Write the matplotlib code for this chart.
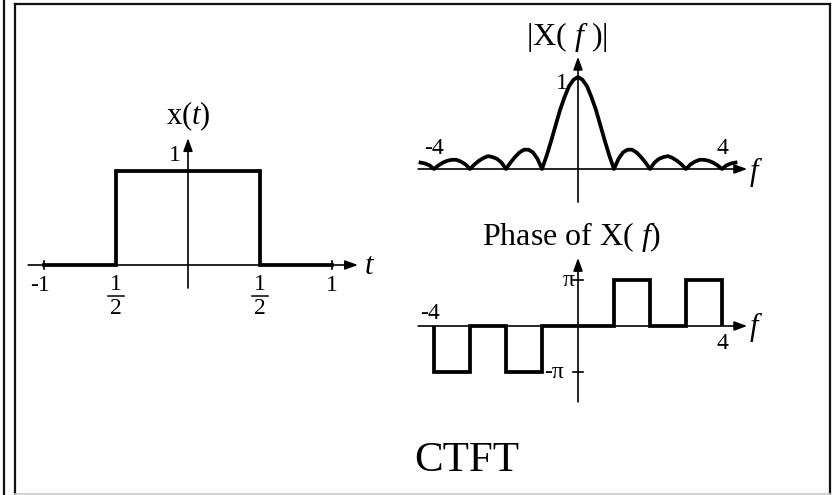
import numpy as np
import matplotlib
matplotlib.use('Agg')
import matplotlib.pyplot as plt
from matplotlib.lines import Line2D

plt.rcParams['font.family'] = ['Liberation Serif', 'DejaVu Serif']
plt.rcParams['mathtext.fontset'] = 'custom'
plt.rcParams['mathtext.rm'] = 'Liberation Serif'
plt.rcParams['mathtext.it'] = 'Liberation Serif:italic'

W, H = 833, 495

# rectangular pulse x(t)
pulse_t = [-1, -0.5, -0.5, 0.5, 0.5, 1]
pulse_x = [0, 0, 1, 1, 0, 0]
whole_ticks = [-1, 1]
whole_labels = ['-1', '1']
half_ticks = [-0.5, 0.5]
half_labels = [('1', '2'), ('1', '2')]

# magnitude |X(f)|
mag_f = [-4.375, -4.25, -4.125, -4.0, -3.875, -3.75, -3.625, -3.5, -3.375, -3.25,
         -3.125, -3.0, -2.875, -2.75, -2.625, -2.5, -2.375, -2.25, -2.125, -2.0,
         -1.875, -1.75, -1.625, -1.5, -1.375, -1.25, -1.125, -1.0, -0.875, -0.75,
         -0.625, -0.5, -0.375, -0.25, -0.125, 0.0,
         0.125, 0.25, 0.375, 0.5, 0.625, 0.75, 0.875, 1.0, 1.125, 1.25,
         1.375, 1.5, 1.625, 1.75, 1.875, 2.0, 2.125, 2.25, 2.375, 2.5,
         2.625, 2.75, 2.875, 3.0, 3.125, 3.25, 3.375, 3.5, 3.625, 3.75,
         3.875, 4.0, 4.125, 4.25, 4.375]
mag = [0.07, 0.06, 0.04, 0.0, 0.04, 0.07, 0.09, 0.10, 0.10, 0.08,
       0.05, 0.0, 0.05, 0.09, 0.12, 0.14, 0.13, 0.11, 0.07, 0.0,
       0.07, 0.13, 0.18, 0.21, 0.21, 0.18, 0.11, 0.0, 0.14, 0.30,
       0.47, 0.64, 0.78, 0.90, 0.97, 1.0,
       0.97, 0.90, 0.78, 0.64, 0.47, 0.30, 0.14, 0.0, 0.11, 0.18,
       0.21, 0.21, 0.18, 0.13, 0.07, 0.0, 0.07, 0.11, 0.13, 0.14,
       0.12, 0.09, 0.05, 0.0, 0.05, 0.08, 0.10, 0.10, 0.09, 0.07,
       0.04, 0.0, 0.04, 0.06, 0.07]

# phase of X(f), in units of pi
phase_edges = [-4, -3, -2, -1, 1, 2, 3, 4]
phase_vals = [-1, 0, -1, 0, 1, 0, 1]

THICK = 2.7
THIN = 1.2
ARROW = '-|>,head_length=0.55,head_width=0.2'
TICK_FS = 17
LABEL_FS = 22


def place(fig, ox, oy, sx, sy, xlim, ylim):
    # origin (ox, oy) in pixels from top-left, sx/sy pixels per data unit
    left = ox + xlim[0] * sx
    right = ox + xlim[1] * sx
    top = oy - ylim[1] * sy
    bottom = oy - ylim[0] * sy
    ax = fig.add_axes([left / W, 1 - bottom / H, (right - left) / W, (bottom - top) / H])
    ax.set_xlim(xlim)
    ax.set_ylim(ylim)
    ax.axis('off')
    return ax


def arrow_axes(ax, x0, x1, y0, y1):
    kw = dict(arrowstyle=ARROW, color='black', lw=THIN, shrinkA=0, shrinkB=0,
              mutation_scale=14)
    ax.annotate('', xy=(x1, 0), xytext=(x0, 0), arrowprops=kw)
    ax.annotate('', xy=(0, y1), xytext=(0, y0), arrowprops=kw)


fig = plt.figure(figsize=(W / 100, H / 100), dpi=100)

# frame
line_kw = dict(transform=fig.transFigure, color='#111111', lw=1.6)
fig.add_artist(Line2D([3.5 / W, 3.5 / W], [0, 1], **line_kw))
fig.add_artist(Line2D([14.5 / W, 14.5 / W], [0, 1 - 4 / H], **line_kw))
fig.add_artist(Line2D([14.5 / W, 830 / W], [1 - 4 / H, 1 - 4 / H], **line_kw))
fig.add_artist(Line2D([830 / W, 830 / W], [0, 1 - 4 / H], **line_kw))
fig.add_artist(Line2D([14.5 / W, 830 / W], [1.5 / H, 1.5 / H],
                      transform=fig.transFigure, color='#cccccc', lw=1.2))

# x(t)
ax1 = place(fig, 188, 265, 144, 94, (-1.25, 1.4), (-0.6, 1.9))
arrow_axes(ax1, -1.11, 1.18, -0.245, 1.35)
ax1.plot(pulse_t, pulse_x, color='black', lw=THICK, solid_joinstyle='miter')
for t, lab in zip(whole_ticks, whole_labels):
    ax1.plot([t, t], [-0.04, 0.04], color='black', lw=THIN)
    ax1.text(t - (0.03 if t < 0 else 0), -0.22, lab, fontsize=TICK_FS, ha='center', va='center')
for t, (num, den) in zip(half_ticks, half_labels):
    ax1.text(t, -0.21, num, fontsize=TICK_FS, ha='center', va='center')
    ax1.plot([t - 0.055, t + 0.055], [-0.33, -0.33], color='black', lw=1.1)
    ax1.text(t, -0.46, den, fontsize=TICK_FS, ha='center', va='center')
ax1.text(-0.05, 1.16, '1', fontsize=TICK_FS, ha='right', va='center')
ax1.text(0, 1.58, r'x($t$)', fontsize=LABEL_FS, ha='center', va='center')
ax1.text(1.22, -0.02, r'$t$', fontsize=LABEL_FS, ha='left', va='center')

# |X(f)|
ax2 = place(fig, 578, 169, 36, 92, (-4.7, 5.3), (-0.5, 1.6))
arrow_axes(ax2, -4.44, 4.7, -0.36, 1.22)
ax2.plot(mag_f, mag, color='black', lw=THICK, solid_joinstyle='round')
ax2.text(-0.3, 1.43, r'|X( $f$ )|', fontsize=23, ha='center', va='center')
ax2.text(-0.28, 0.93, '1', fontsize=TICK_FS, ha='right', va='center')
ax2.text(-4.0, 0.22, '-4', fontsize=TICK_FS, ha='center', va='center')
ax2.text(4.0, 0.22, '4', fontsize=TICK_FS, ha='center', va='center')
ax2.text(4.75, -0.03, r'$f$', fontsize=LABEL_FS, ha='left', va='center')

# phase
ax3 = place(fig, 578, 326, 36, 46, (-4.7, 5.3), (-2.0, 2.3))
arrow_axes(ax3, -4.44, 4.7, -1.65, 1.48)
ax3.stairs(phase_vals, phase_edges, baseline=0, color='black', lw=THICK)
for v in [-1, 1]:
    ax3.plot([-0.15, 0.15], [v, v], color='black', lw=THIN)
ax3.text(-0.17, 1.93, r'Phase of X( $f$)', fontsize=23, ha='center', va='center')
ax3.text(-0.1, 1.0, 'π', fontsize=TICK_FS, ha='right', va='center')
ax3.text(-0.38, -1.0, '-π', fontsize=TICK_FS, ha='right', va='center')
ax3.text(-4.1, 0.28, '-4', fontsize=TICK_FS, ha='center', va='center')
ax3.text(4.0, -0.37, '4', fontsize=TICK_FS, ha='center', va='center')
ax3.text(4.75, -0.03, r'$f$', fontsize=LABEL_FS, ha='left', va='center')

fig.text(467 / W, 1 - 461 / H, 'CTFT', fontsize=31, ha='center', va='center')

fig.savefig('out.png', dpi=100)
